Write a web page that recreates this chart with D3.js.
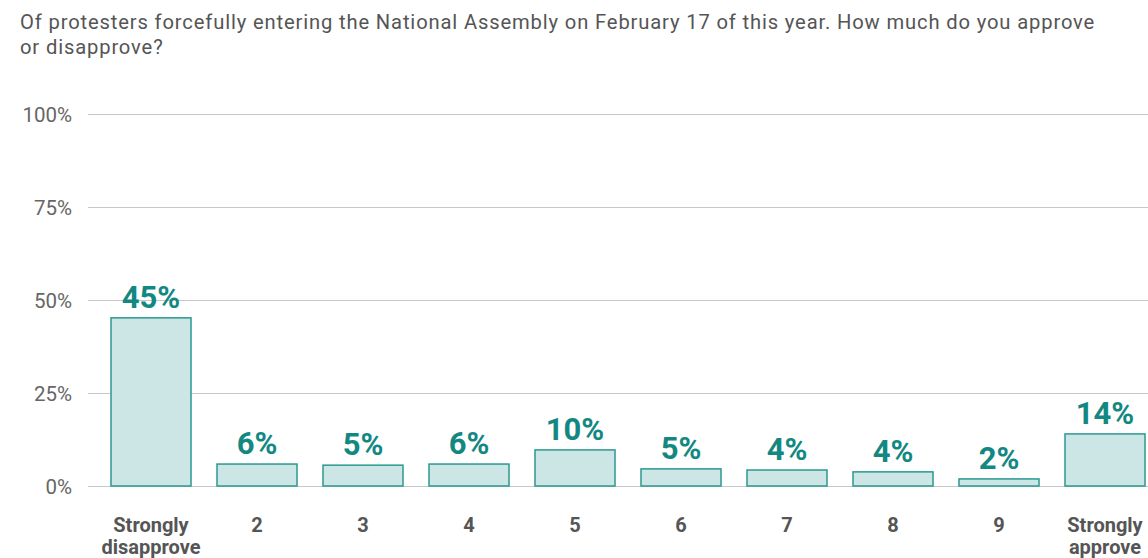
<!DOCTYPE html>
<html><head><meta charset="utf-8">
<script src="https://cdn.jsdelivr.net/npm/d3@7"></script>
<style>
html,body{margin:0;padding:0;background:#fff;overflow:hidden;}
svg{display:block;}
</style></head>
<body>
<svg id="chart" width="1148" height="558"></svg>
<script>
const categories = ["Strongly disapprove","2","3","4","5","6","7","8","9","Strongly approve"];
const values = [45.2, 5.9, 5.6, 5.9, 9.7, 4.6, 4.3, 3.8, 1.9, 14.0];
const valueLabels = ["45%","6%","5%","6%","10%","5%","4%","4%","2%","14%"];
const yTicks = [0, 25, 50, 75, 100];
const titleLines = ["Of protesters forcefully entering the National Assembly on February 17 of this year. How much do you approve","or disapprove?"];

const svg = d3.select("#chart");
const y = d3.scaleLinear().domain([0,100]).range([486,114]);
const x = d3.scaleBand().domain(categories).range([98,1158])
  .paddingInner(26/106).paddingOuter(13/106);

svg.append("g").selectAll("text").data(titleLines).join("text")
  .attr("font-family","Roboto, sans-serif").attr("font-size",20.2)
  .attr("letter-spacing",0.85)
  .attr("fill","#555")
  .attr("x",20).attr("y",(d,i)=>29+i*24.5).text(d=>d);

const grid = svg.append("g");
grid.selectAll("line").data(yTicks).join("line")
  .attr("x1",88).attr("x2",1148).attr("y1",d=>y(d)+0.5).attr("y2",d=>y(d)+0.5)
  .attr("stroke","#c8c8c8").attr("stroke-width",1.2);

const yAxis = d3.axisLeft(y).tickValues(yTicks).tickFormat(d=>d+"%").tickSize(0).tickPadding(0);
const ya = svg.append("g").attr("transform","translate(72,0)").call(yAxis);
ya.select(".domain").remove();
ya.selectAll("text").attr("font-family","Roboto, sans-serif").attr("font-size",20.5)
  .attr("fill","#666").attr("dy","0.35em");

svg.append("g").selectAll("rect").data(values).join("rect")
  .attr("x",(d,i)=>x(categories[i]))
  .attr("y",d=>y(d))
  .attr("width",x.bandwidth())
  .attr("height",d=>y(0)-y(d))
  .attr("fill","#cce6e6").attr("stroke","#2b9891").attr("stroke-width",1.5);

svg.append("g").selectAll("text").data(values).join("text")
  .attr("x",(d,i)=>x(categories[i])+x.bandwidth()/2).attr("y",d=>y(d)-10)
  .attr("text-anchor","middle").attr("font-family","Roboto, sans-serif")
  .attr("font-weight","bold").attr("font-size",31).attr("fill","#138882")
  .text((d,i)=>valueLabels[i]);

const xl = svg.append("g");
categories.forEach((c,i)=>{
  const words = c.split(" ");
  const t = xl.append("text").attr("text-anchor","middle")
    .attr("font-family","Roboto, sans-serif").attr("font-weight","bold")
    .attr("font-size",20).attr("fill","#555");
  words.forEach((w,j)=>{
    t.append("tspan").attr("x",x(c)+x.bandwidth()/2).attr("y",532+j*22).text(w);
  });
});
</script>
</body></html>
